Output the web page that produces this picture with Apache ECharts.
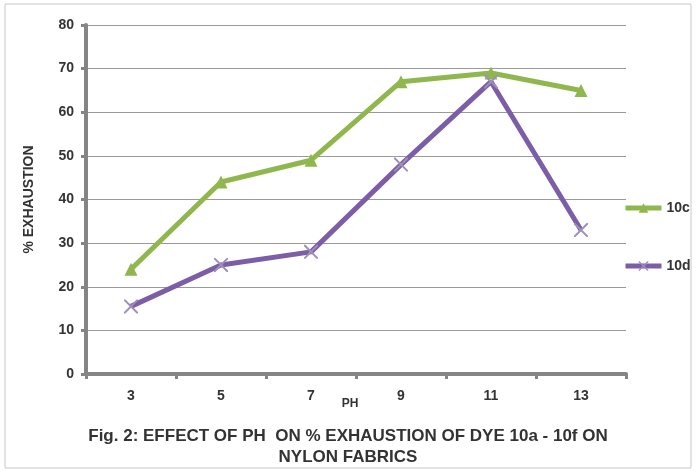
<!DOCTYPE html>
<html>
<head>
<meta charset="utf-8">
<script src="https://cdn.jsdelivr.net/npm/echarts@6/dist/echarts.min.js"></script>
<style>html,body{margin:0;padding:0;background:#fff;}#c{width:696px;height:472px;}</style>
</head>
<body>
<div id="c"></div>
<script>
var categories = ['3', '5', '7', '9', '11', '13'];
var series10c = [24, 44, 49, 67, 69, 65];
var series10d = [15.5, 25, 28, 48, 67, 33];
var yTicks = [0, 10, 20, 30, 40, 50, 60, 70, 80];

var chart = echarts.init(document.getElementById('c'), null, {renderer: 'canvas'});
var font = '"Liberation Sans", Arial, sans-serif';
var crossPath = 'path://M0,0 L1,0 L10,9 L10,10 L9,10 L0,1 Z M9,0 L10,0 L10,1 L1,10 L0,10 L0,9 Z';
chart.setOption({
  animation: false,
  backgroundColor: '#fff',
  textStyle: {fontFamily: font},
  grid: {left: 86, right: 70, top: 25, bottom: 98},
  graphic: [
    {type: 'rect', shape: {x: 5, y: 4, width: 686, height: 464}, style: {fill: 'none', stroke: '#c8c8c8', lineWidth: 1}, z: -1},
    {type: 'text', x: 350, y: 404, style: {text: 'PH', font: 'bold 12px ' + font, fill: '#333', align: 'center', verticalAlign: 'middle'}},
    {type: 'text', left: 'center', top: 426, style: {text: 'Fig. 2: EFFECT OF PH  ON % EXHAUSTION OF DYE 10a - 10f ON\nNYLON FABRICS', font: 'bold 17px ' + font, fill: '#333', textAlign: 'center', lineHeight: 21}}
  ],
  legend: {
    orient: 'vertical', left: 618, top: 196, itemGap: 44, itemWidth: 36, itemHeight: 12,
    lineStyle: {width: 5},
    textStyle: {fontWeight: 'bold', fontSize: 14, color: '#333', fontFamily: font},
    data: ['10c', '10d']
  },
  xAxis: {
    type: 'category', data: categories, boundaryGap: true,
    axisLine: {lineStyle: {color: '#858585', width: 4}},
    axisTick: {show: true, length: 5, lineStyle: {color: '#858585', width: 3}},
    axisLabel: {fontWeight: 'bold', fontSize: 14, color: '#333', margin: 15}
  },
  yAxis: {
    type: 'value', min: 0, max: 80, interval: 10,
    name: '% EXHAUSTION', nameLocation: 'middle', nameGap: 50, nameRotate: 90,
    nameTextStyle: {fontWeight: 'bold', fontSize: 14, color: '#333'},
    axisLine: {show: true, lineStyle: {color: '#858585', width: 4}},
    axisTick: {show: true, length: 5, lineStyle: {color: '#858585', width: 3}},
    axisLabel: {fontWeight: 'bold', fontSize: 14, color: '#333', margin: 12},
    splitLine: {lineStyle: {color: '#9a9a9a', width: 1}}
  },
  series: [
    {name: '10c', type: 'line', data: series10c, symbol: 'triangle', symbolSize: 13,
     lineStyle: {color: '#8fb74d', width: 5}, itemStyle: {color: '#8fb74d'}},
    {name: '10d', type: 'line', data: series10d, symbol: crossPath, symbolSize: 14,
     lineStyle: {color: '#7b5ea7', width: 5}, itemStyle: {color: '#9d8fb8'}}
  ]
});
</script>
</body>
</html>
